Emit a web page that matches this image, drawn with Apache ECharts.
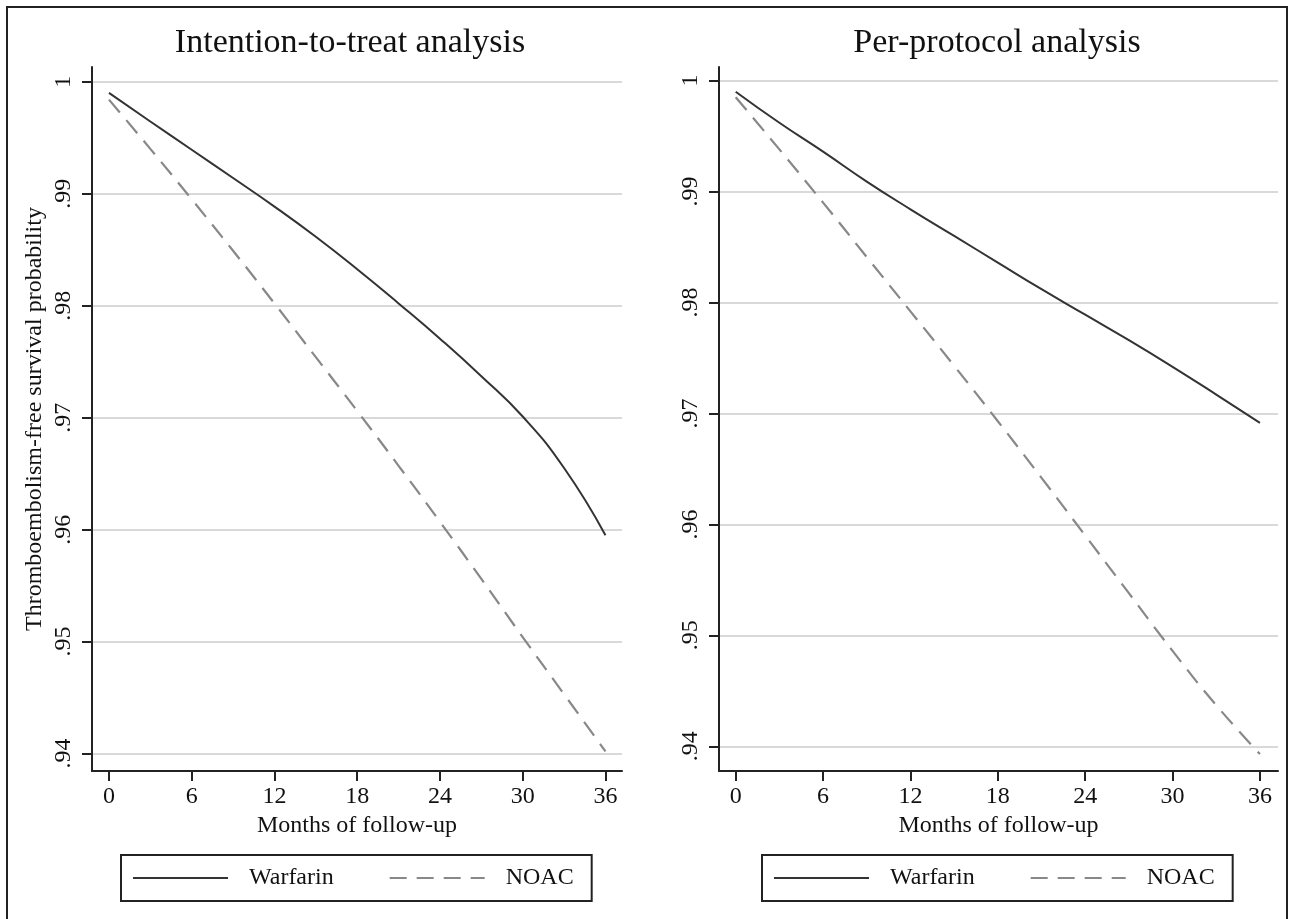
<!DOCTYPE html>
<html>
<head>
<meta charset="utf-8">
<script src="https://cdn.jsdelivr.net/npm/echarts@6/dist/echarts.min.js"></script>
<style>
html,body{margin:0;padding:0;background:#fff;}
#chart{width:1291px;height:919px;}
</style>
</head>
<body>
<div id="chart"></div>
<script>
// ---- data ----
const months = [0, 3, 6, 9, 12, 15, 18, 21, 24, 27, 30, 33, 36];
const ittWarfarin = [0.9990, 0.99645, 0.99392, 0.99140, 0.98885, 0.98615, 0.98325, 0.98020, 0.97705, 0.97370, 0.97010, 0.96550, 0.9595];
const ittNOAC     = [0.9984, 0.9940, 0.9895, 0.9849, 0.9802, 0.9754, 0.9706, 0.9657, 0.9607, 0.9556, 0.9504, 0.9453, 0.9402];
const ppWarfarin  = [0.9990, 0.9962, 0.9936, 0.9909, 0.9884, 0.9860, 0.9836, 0.9812, 0.9789, 0.9766, 0.9742, 0.9717, 0.96915];
const ppNOAC      = [0.9985, 0.9938, 0.9890, 0.9841, 0.9792, 0.9743, 0.9693, 0.9642, 0.9590, 0.9538, 0.9486, 0.9437, 0.9393];
const xTicks = [0, 6, 12, 18, 24, 30, 36];
const yTicks = [0.94, 0.95, 0.96, 0.97, 0.98, 0.99, 1];
const yTickLabels = ['.94', '.95', '.96', '.97', '.98', '.99', '1'];
const seriesNames = ['Warfarin', 'NOAC'];
const panelTitles = ['Intention-to-treat analysis', 'Per-protocol analysis'];
const xAxisTitle = 'Months of follow-up';
const yAxisTitle = 'Thromboembolism-free survival probability';

// ---- chart ----
const FONT = '"Liberation Serif", "Times New Roman", serif';
const chart = echarts.init(document.getElementById('chart'), null, {renderer: 'canvas'});
const pair = (xs, ys) => xs.map((x, i) => [x, ys[i]]);
const yLabelFmt = v => {
  const i = yTicks.findIndex(t => Math.abs(t - v) < 1e-6);
  return i >= 0 ? yTickLabels[i] : '';
};

function xAxisCfg(gridIndex, min, max) {
  return {
    type: 'value', gridIndex, min, max,
    name: xAxisTitle, nameLocation: 'middle', nameGap: 35,
    nameTextStyle: {fontFamily: FONT, fontSize: 24, color: '#111'},
    axisLine: {show: true, onZero: false, lineStyle: {color: '#222', width: 2}},
    axisTick: {show: true, length: 10, customValues: xTicks, lineStyle: {color: '#222', width: 2}},
    axisLabel: {customValues: xTicks, fontFamily: FONT, fontSize: 24, color: '#111', margin: 14},
    splitLine: {show: false}
  };
}
function yAxisCfg(gridIndex, min, max, withName) {
  return {
    type: 'value', gridIndex, min, max,
    name: withName ? yAxisTitle : '', nameLocation: 'middle', nameGap: 45,
    nameTextStyle: {fontFamily: FONT, fontSize: 24, color: '#111'},
    axisLine: {show: true, onZero: false, lineStyle: {color: '#222', width: 2}},
    axisTick: {show: true, length: 10, customValues: yTicks, lineStyle: {color: '#222', width: 2}},
    axisLabel: {customValues: yTicks, formatter: yLabelFmt, rotate: 90, fontFamily: FONT, fontSize: 24, color: '#111', margin: 16},
    splitLine: {show: true, lineStyle: {color: '#d9d9d9', width: 2}}
  };
}
function lineSeries(name, xi, data) {
  const solid = name === 'Warfarin';
  return {
    type: 'line', name, xAxisIndex: xi, yAxisIndex: xi,
    data, smooth: 0.5, symbol: 'none', silent: true,
    lineStyle: solid ? {color: '#333', width: 2} : {color: '#888', width: 2.2, type: [17, 10]},
    itemStyle: {color: solid ? '#333' : '#888'}
  };
}
function legendCfg(left) {
  return {
    left, top: 855, orient: 'horizontal',
    data: seriesNames,
    selectedMode: false,
    itemWidth: 95, itemHeight: 24, itemGap: 55,
    padding: [11, 18, 11, 11],
    borderColor: '#222', borderWidth: 2,
    itemStyle: {opacity: 0},
    textStyle: {fontFamily: FONT, fontSize: 24, color: '#111', padding: [0, 0, 0, 16]}
  };
}

chart.setOption({
  animation: false,
  backgroundColor: '#fff',
  title: [
    {text: panelTitles[0], left: 350, top: 26, textAlign: 'center', padding: 0,
     textStyle: {fontFamily: FONT, fontSize: 34, fontWeight: 'normal', color: '#111'}},
    {text: panelTitles[1], left: 997, top: 26, textAlign: 'center', padding: 0,
     textStyle: {fontFamily: FONT, fontSize: 34, fontWeight: 'normal', color: '#111'}}
  ],
  legend: [legendCfg(121), legendCfg(762)],
  grid: [
    {left: 92, top: 67, width: 530, height: 704, containLabel: false},
    {left: 719, top: 67, width: 559, height: 704, containLabel: false}
  ],
  xAxis: [xAxisCfg(0, -1.23, 37.2), xAxisCfg(1, -1.147, 37.24)],
  yAxis: [yAxisCfg(0, 0.938445, 1.001313, true), yAxisCfg(1, 0.937773, 1.001226, false)],
  series: [
    lineSeries('Warfarin', 0, pair(months, ittWarfarin)),
    lineSeries('NOAC', 0, pair(months, ittNOAC)),
    lineSeries('Warfarin', 1, pair(months, ppWarfarin)),
    lineSeries('NOAC', 1, pair(months, ppNOAC))
  ],
  graphic: [{
    type: 'rect', silent: true, z: 100,
    shape: {x: 7, y: 7, width: 1280, height: 940},
    style: {fill: null, stroke: '#222', lineWidth: 2}
  }]
});
</script>
</body>
</html>
